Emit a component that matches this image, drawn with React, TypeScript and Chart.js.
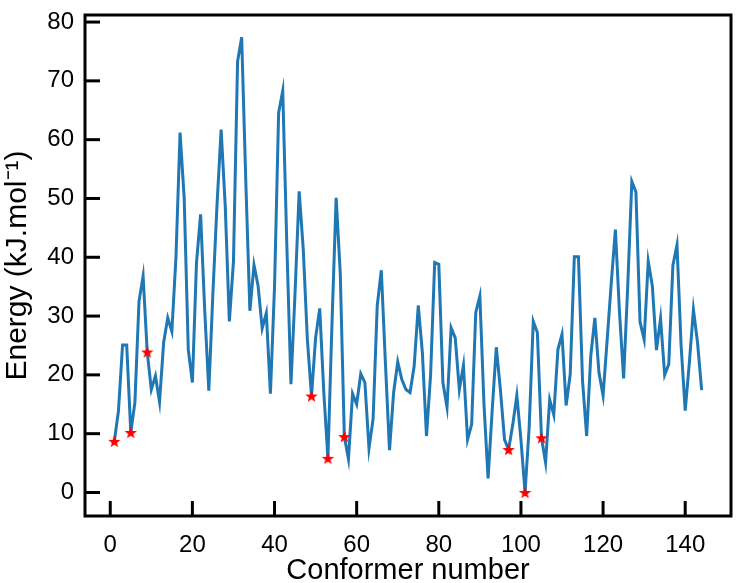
import React, { useEffect, useRef } from "react";
import { Chart, registerables } from "chart.js";

Chart.register(...registerables);

const conformers: number[] = Array.from({ length: 144 }, (_, i) => i + 1);

const energies: number[] = [
  8.7, 13.9, 25.1, 25.1, 10.2, 15.3, 32.5, 36.8, 23.9, 17.5,
  19.8, 15.4, 25.5, 29.7, 27.4, 40.0, 61.2, 50.1, 24.3, 18.7,
  39.1, 47.3, 31.0, 17.3, 34.0, 49.0, 61.7, 48.7, 29.1, 39.3,
  73.3, 77.4, 53.0, 30.9, 38.7, 35.1, 27.9, 30.5, 16.8, 35.0,
  64.6, 68.3, 42.0, 18.4, 34.0, 51.2, 41.3, 26.0, 16.4, 26.3,
  31.3, 17.0, 5.8, 29.0, 50.1, 37.4, 9.5, 5.7, 16.8, 15.0,
  20.2, 18.7, 7.5, 12.5, 31.7, 37.8, 22.0, 7.2, 17.0, 22.2,
  19.2, 17.5, 17.0, 21.5, 31.8, 23.8, 9.6, 20.0, 39.1, 38.8,
  18.7, 14.5, 28.0, 26.3, 17.5, 21.6, 9.0, 11.6, 30.6, 33.4,
  15.0, 2.4, 14.0, 24.7, 17.5, 9.0, 7.3, 11.5, 16.5, 9.0,
  0.0, 11.0, 29.1, 27.2, 9.3, 5.1, 15.8, 13.2, 24.3, 26.9,
  14.8, 20.1, 40.1, 40.1, 19.0, 9.6, 23.2, 29.7, 20.4, 16.5,
  26.0, 35.7, 44.7, 30.6, 19.4, 35.0, 52.9, 51.1, 29.0, 26.0,
  39.3, 35.1, 24.2, 29.6, 20.0, 21.8, 38.6, 42.1, 25.0, 13.9,
  22.0, 31.1, 25.5, 17.4,
];

const markedConformers: number[] = [1, 5, 9, 49, 53, 57, 97, 101, 105];

const xTickValues: number[] = [0, 20, 40, 60, 80, 100, 120, 140];
const yTickValues: number[] = [0, 10, 20, 30, 40, 50, 60, 70, 80];

const xTitle = "Conformer number";
const yTitle = "Energy (kJ.mol\u207B\u00B9)";

const FONT = "'Liberation Sans', Arial, Helvetica, sans-serif";

function makeStar(size: number, color: string): HTMLCanvasElement {
  const c = document.createElement("canvas");
  c.width = size;
  c.height = size;
  const ctx = c.getContext("2d")!;
  const cx = size / 2;
  const cy = size / 2 + 0.6;
  const R = size / 2;
  const r = R * 0.42;
  ctx.beginPath();
  for (let k = 0; k < 10; k++) {
    const a = -Math.PI / 2 + (k * Math.PI) / 5;
    const rad = k % 2 ? r : R;
    const px = cx + rad * Math.cos(a);
    const py = cy + rad * Math.sin(a);
    if (k === 0) ctx.moveTo(px, py);
    else ctx.lineTo(px, py);
  }
  ctx.closePath();
  ctx.fillStyle = color;
  ctx.fill();
  return c;
}

const TICK_LEN = 15;
const TICK_W = 3;

const framePlugin = {
  id: "plotFrame",
  afterDraw(chart: any) {
    const ctx: CanvasRenderingContext2D = chart.ctx;
    const area = chart.chartArea;
    const xs = chart.scales.x;
    const ys = chart.scales.y;
    ctx.save();
    ctx.strokeStyle = "#000000";
    ctx.lineCap = "butt";
    ctx.lineWidth = TICK_W;
    for (let k = 0; k < xTickValues.length; k++) {
      const px = xs.getPixelForValue(xTickValues[k]);
      ctx.beginPath();
      ctx.moveTo(px, area.bottom);
      ctx.lineTo(px, area.bottom - TICK_LEN);
      ctx.stroke();
    }
    for (let k = 0; k < yTickValues.length; k++) {
      const py = ys.getPixelForValue(yTickValues[k]);
      ctx.beginPath();
      ctx.moveTo(area.left, py);
      ctx.lineTo(area.left + TICK_LEN, py);
      ctx.stroke();
    }
    ctx.lineWidth = 3;
    ctx.strokeRect(area.left, area.top, area.right - area.left, area.bottom - area.top);
    ctx.restore();
  },
};

export default function App() {
  const canvasRef = useRef<HTMLCanvasElement | null>(null);

  useEffect(() => {
    if (!canvasRef.current) return;
    const star = makeStar(13, "#ff0000");
    const lineData = conformers.map((c, i) => ({ x: c, y: energies[i] }));
    const starData = markedConformers.map((c) => ({ x: c, y: energies[c - 1] }));

    const chart = new Chart(canvasRef.current, {
      type: "line",
      data: {
        datasets: [
          {
            label: "stars",
            data: starData,
            showLine: false,
            pointStyle: star as any,
            pointRadius: 6.5,
            pointHoverRadius: 6.5,
            order: 0,
          },
          {
            label: "energy",
            data: lineData,
            borderColor: "#1f77b4",
            borderWidth: 3,
            pointRadius: 0,
            tension: 0,
            fill: false,
            order: 1,
          },
        ],
      },
      options: {
        responsive: false,
        animation: false,
        devicePixelRatio: 1,
        layout: { padding: { left: 0, top: 15, right: 16, bottom: 0 } },
        plugins: {
          legend: { display: false },
          tooltip: { enabled: false },
        },
        scales: {
          x: {
            type: "linear",
            min: -6.15,
            max: 151.15,
            grid: { display: false, drawTicks: false },
            border: { display: false },
            afterBuildTicks: (s: any) => {
              s.ticks = xTickValues.map((v) => ({ value: v }));
            },
            afterFit: (s: any) => {
              s.height = 67;
              s.paddingLeft = 0;
              s.paddingRight = 0;
            },
            ticks: {
              color: "#000",
              font: { family: FONT, size: 24 },
              padding: 15,
              maxRotation: 0,
              autoSkip: false,
            },
            title: {
              display: true,
              text: xTitle,
              color: "#000",
              font: { family: FONT, size: 29, lineHeight: 0.85 },
              padding: { top: 0, bottom: 0 },
            },
          },
          y: {
            type: "linear",
            min: -4.0,
            max: 81.2,
            grid: { display: false, drawTicks: false },
            border: { display: false },
            afterBuildTicks: (s: any) => {
              s.ticks = yTickValues.map((v) => ({ value: v }));
            },
            afterFit: (s: any) => {
              s.width = 85;
              s.paddingTop = 0;
              s.paddingBottom = 0;
            },
            ticks: {
              color: "#000",
              font: { family: FONT, size: 24 },
              padding: 11,
              autoSkip: false,
            },
            title: {
              display: true,
              text: yTitle,
              color: "#000",
              font: { family: FONT, size: 30 },
              padding: { top: 0, bottom: 0 },
            },
          },
        },
      },
      plugins: [framePlugin],
    });
    return () => chart.destroy();
  }, []);

  return (
    <div style={{ position: "absolute", left: 0, top: 0, width: 747, height: 583, background: "#fff" }}>
      <canvas ref={canvasRef} width={747} height={583} style={{ display: "block" }} />
    </div>
  );
}
